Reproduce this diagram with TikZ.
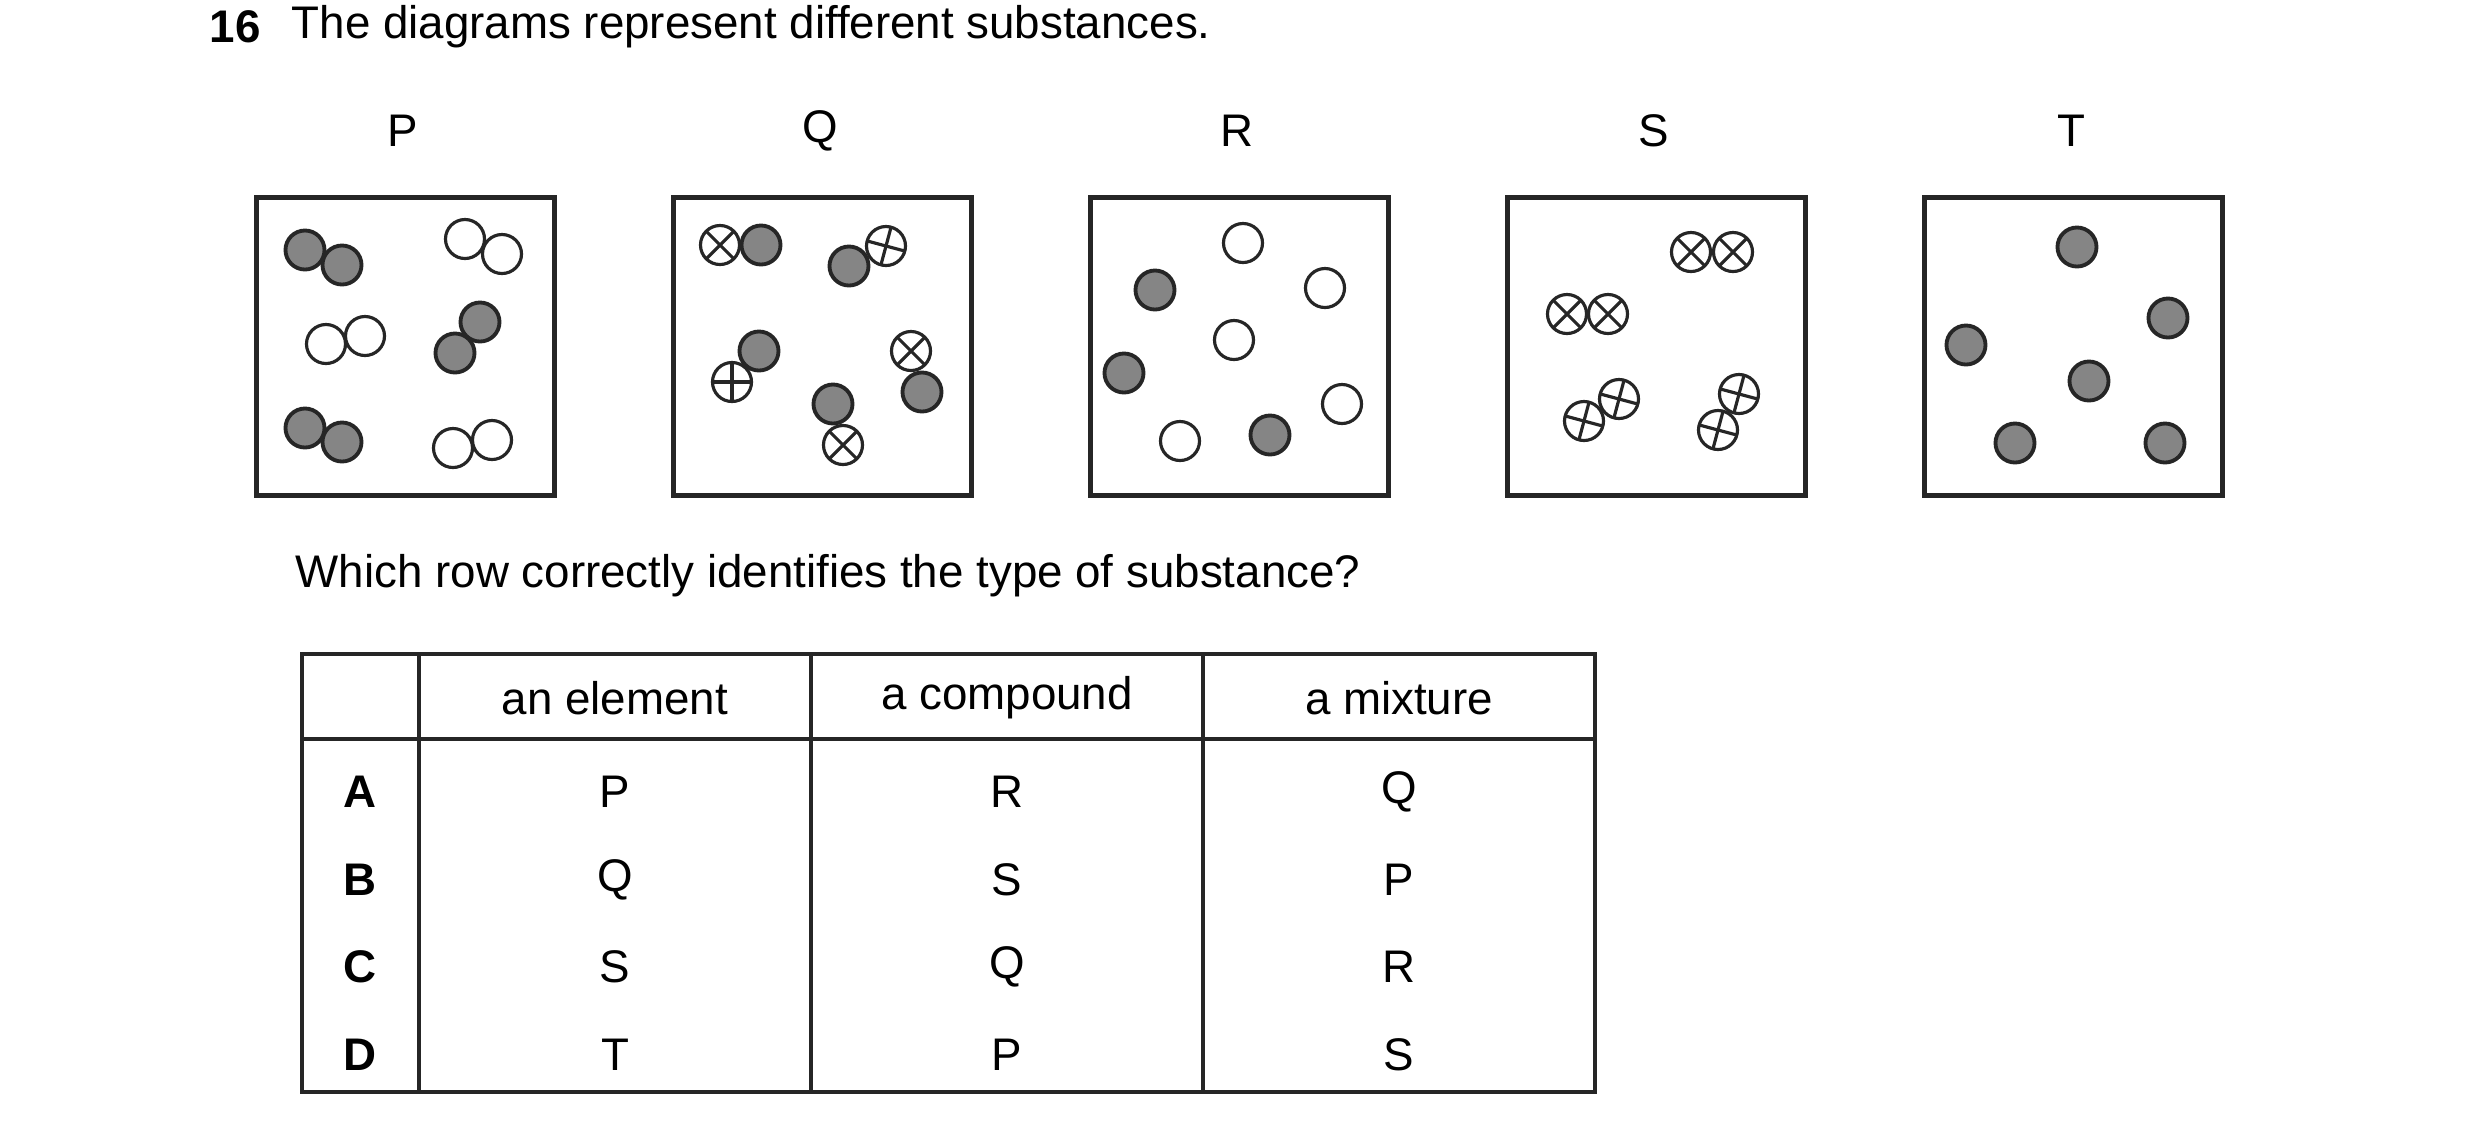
\documentclass[tikz,border=0pt]{standalone}
\usepackage{fontspec}
\setmainfont{Liberation Sans}
\usetikzlibrary{positioning}
\begin{document}
\begin{tikzpicture}[x=0.01cm, y=-0.01cm, font=\fontsize{13}{15}\selectfont]
    \tikzstyle{atom}=[circle, draw=black!85, line width=1.1pt, minimum size=0.39cm, inner sep=0pt, fill=white]
    \tikzstyle{grey atom}=[atom, fill=black!48]
    \tikzstyle{white atom}=[atom, line width=0.9pt]
    \tikzstyle{mark atom}=[atom, line width=0.9pt, path picture={
        \draw[line width=0.9pt] (path picture bounding box.center) ++(#1:0.2cm) -- ++(#1+180:0.4cm);
        \draw[line width=0.9pt] (path picture bounding box.center) ++(#1+90:0.2cm) -- ++(#1+270:0.4cm);}]
    \tikzstyle{box}=[draw=black!85, line width=1.4pt, minimum size=2.98cm, inner sep=0pt, anchor=north west]
    \tikzstyle{cell}=[anchor=center]

    \useasboundingbox (0,0) rectangle (2480,1132);

    \node[anchor=west, inner sep=0pt, font=\fontsize{13}{15}\selectfont\bfseries] (num) at (209,27) {16};
    \node[anchor=west, inner sep=0pt] (intro) at (291,27) {The diagrams represent different substances.};

    % the five boxes
    \foreach \lab/\xx in {P/254, Q/671, R/1088, S/1505, T/1922} {
        \node[box] (box\lab) at (\xx,195) {};
        \node (lab\lab) at (\xx+149,131) {\lab};
    }

    % P
    \begin{scope}[shift={(254,195)}]
        \node[grey atom] (p1) at (51,55) {};   \node[grey atom] (p2) at (88,70) {};
        \node[white atom] (p3) at (211,44) {}; \node[white atom] (p4) at (248,59) {};
        \node[white atom] (p5) at (111,141) {}; \node[white atom] (p6) at (72,149) {};
        \node[grey atom] (p7) at (226,127) {};  \node[grey atom] (p8) at (201,158) {};
        \node[grey atom] (p9) at (51,233) {};   \node[grey atom] (p10) at (88,247) {};
        \node[white atom] (p11) at (238,245) {}; \node[white atom] (p12) at (199,253) {};
    \end{scope}

    % Q
    \begin{scope}[shift={(671,195)}]
        \node[mark atom=45] (q1) at (49,50) {};  \node[grey atom] (q2) at (90,50) {};
        \node[grey atom] (q3) at (178,71) {};    \node[mark atom=-15] (q4) at (215,51) {};
        \node[grey atom] (q5) at (88,156) {};    \node[mark atom=0] (q6) at (61,187) {};
        \node[mark atom=45] (q7) at (240,156) {}; \node[grey atom] (q8) at (251,197) {};
        \node[grey atom] (q9) at (162,209) {};   \node[mark atom=45] (q10) at (172,250) {};
    \end{scope}

    % R
    \begin{scope}[shift={(1088,195)}]
        \node[white atom] (r1) at (155,48) {};
        \node[grey atom] (r2) at (67,95) {};
        \node[white atom] (r3) at (237,93) {};
        \node[white atom] (r4) at (146,145) {};
        \node[grey atom] (r5) at (36,178) {};
        \node[white atom] (r6) at (254,209) {};
        \node[white atom] (r7) at (92,246) {};
        \node[grey atom] (r8) at (182,240) {};
    \end{scope}

    % S
    \begin{scope}[shift={(1505,195)}]
        \node[mark atom=45] (s1) at (186,57) {};  \node[mark atom=45] (s2) at (228,57) {};
        \node[mark atom=45] (s3) at (62,119) {};  \node[mark atom=45] (s4) at (103,119) {};
        \node[mark atom=-15] (s5) at (114,204) {}; \node[mark atom=-15] (s6) at (79,226) {};
        \node[mark atom=-15] (s7) at (234,199) {}; \node[mark atom=-15] (s8) at (213,235) {};
    \end{scope}

    % T
    \begin{scope}[shift={(1922,195)}]
        \node[grey atom] (t1) at (155,52) {};
        \node[grey atom] (t2) at (246,123) {};
        \node[grey atom] (t3) at (44,150) {};
        \node[grey atom] (t4) at (167,186) {};
        \node[grey atom] (t5) at (93,248) {};
        \node[grey atom] (t6) at (243,248) {};
    \end{scope}

    \node[anchor=west, inner sep=0pt] (question) at (295,576) {Which row correctly identifies the type of substance?};

    % table
    \draw[line width=0.9pt, draw=black!85] (302,654) rectangle (1595,1092);
    \draw[line width=0.9pt, draw=black!85] (302,739) -- (1595,739);
    \foreach \xx in {419, 811, 1203} \draw[line width=0.9pt, draw=black!85] (\xx,654) -- (\xx,1092);
    \node[cell] (h1) at (615,698) {an element};
    \node[cell] (h2) at (1007,698) {a compound};
    \node[cell] (h3) at (1399,698) {a mixture};
    \foreach \row/\yy/\a/\b/\c in {A/792/P/R/Q, B/880/Q/S/P, C/967/S/Q/R, D/1055/T/P/S} {
        \node[cell, font=\fontsize{13}{15}\selectfont\bfseries] (row\row) at (360,\yy) {\row};
        \node[cell] (el\row) at (615,\yy) {\a};
        \node[cell] (co\row) at (1007,\yy) {\b};
        \node[cell] (mi\row) at (1399,\yy) {\c};
    }
\end{tikzpicture}
\end{document}
